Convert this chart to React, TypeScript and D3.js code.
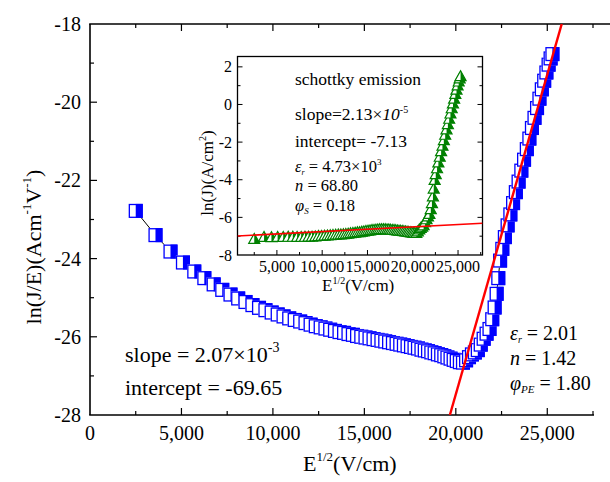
import React, { useEffect, useRef } from "react";
import * as d3 from "d3";

// E^1/2 (V/cm)
const fieldRoot = [
  2500, 3580, 4400, 5080, 5700, 6250, 6760, 7230, 7680, 8100, 8500, 8880, 9240, 9590, 9930,
  10260, 10580, 10890, 11190, 11490, 11780, 12060, 12340, 12610, 12870, 13130, 13390, 13640,
  13890, 14130, 14370, 14600, 14830, 15060, 15280, 15500, 15720, 15930, 16140, 16350, 16560,
  16760, 16960, 17160, 17360, 17550, 17740, 17930, 18120, 18300, 18480, 18660, 18840, 19020,
  19200, 19370, 19540, 19710, 19880, 20050, 20220, 20390,
  20560, 20720, 20880, 21040, 21200, 21360, 21520, 21680, 21840, 21990, 22120, 22230, 22320,
  22420, 22540, 22680, 22830, 22980, 23130, 23280, 23430, 23580, 23730, 23880, 24020, 24160,
  24300, 24440, 24570, 24700, 24830, 24950, 25070, 25180, 25280,
];

// ln(J/E)
const lnJE = [
  -22.78, -23.4, -23.82, -24.1, -24.33, -24.5, -24.66, -24.8, -24.92, -25.02, -25.11, -25.19,
  -25.26, -25.32, -25.38, -25.43, -25.48, -25.53, -25.57, -25.61, -25.65, -25.69, -25.73, -25.76,
  -25.79, -25.82, -25.85, -25.88, -25.9, -25.93, -25.95, -25.98, -26.0, -26.02, -26.04, -26.06,
  -26.08, -26.1, -26.12, -26.14, -26.16, -26.18, -26.2, -26.22, -26.24, -26.26, -26.28, -26.3,
  -26.33, -26.35, -26.37, -26.4, -26.42, -26.45, -26.47, -26.5, -26.53, -26.56, -26.59, -26.62,
  -26.65, -26.66,
  -26.6, -26.52, -26.45, -26.4, -26.34, -26.2, -26.05, -25.92, -25.8, -25.55, -25.25, -24.9,
  -24.5, -24.05, -23.75, -23.45, -23.15, -22.87, -22.58, -22.3, -22.03, -21.75, -21.47, -21.2,
  -20.93, -20.66, -20.4, -20.15, -19.91, -19.67, -19.45, -19.24, -19.04, -18.88, -18.77,
];

// ln(J) for the inset
const lnJ = [
  -7.13, -7.03, -7.04, -7.03, -7.03, -7.02, -7.02, -7.03, -7.03, -7.02, -7.01, -7.01, -7.0,
  -6.98, -6.97, -6.96, -6.95, -6.94, -6.92, -6.91, -6.9, -6.89, -6.88, -6.87, -6.85, -6.83,
  -6.82, -6.8, -6.78, -6.77, -6.75, -6.73, -6.71, -6.69, -6.68, -6.66, -6.65, -6.64, -6.63,
  -6.62, -6.62, -6.62, -6.62, -6.63, -6.63, -6.64, -6.65, -6.66, -6.67, -6.68, -6.69, -6.7,
  -6.71, -6.72, -6.73, -6.75, -6.76, -6.78, -6.79, -6.8, -6.81, -6.82,
  -6.73, -6.63, -6.55, -6.48, -6.41, -6.25, -6.09, -5.94, -5.81, -5.55, -5.23, -4.87, -4.46,
  -4.0, -3.69, -3.38, -3.07, -2.77, -2.47, -2.18, -1.89, -1.6, -1.31, -1.03, -0.75, -0.47,
  -0.19, 0.07, 0.32, 0.57, 0.8, 1.02, 1.23, 1.4, 1.52,
];

// fitted lines
const fitMain = [
  [19675, -28],
  [25790, -18],
];
const fitInset = [
  [650, -6.99],
  [27700, -6.31],
];

const mainXTicks = [0, 5000, 10000, 15000, 20000, 25000];
const mainYTicks = [-28, -26, -24, -22, -20, -18];
const insetXTicks = [5000, 10000, 15000, 20000, 25000];
const insetYTicks = [-8, -6, -4, -2, 0, 2];

const FONT = "'Liberation Serif', 'Times New Roman', serif";
const BLUE = "#0000ff";
const GREEN = "#008000";

const App = () => {
  const svgRef = useRef();

  useEffect(() => {
    const svg = d3.select(svgRef.current);
    svg.selectAll("*").remove();

    const pts = fieldRoot.map((x, i) => ({ x, y: lnJE[i], yi: lnJ[i] }));

    const x = d3.scaleLinear().domain([0, 27500]).range([90, 593]);
    const y = d3.scaleLinear().domain([-28, -18]).range([415, 24]);

    // clip for main plot
    const defs = svg.append("defs");
    defs
      .append("clipPath")
      .attr("id", "mainClip")
      .append("rect")
      .attr("x", 90)
      .attr("y", 24)
      .attr("width", 520)
      .attr("height", 391);

    // axes / frame
    const frame = svg.append("g").attr("stroke", "#000").attr("stroke-width", 1.6);
    frame.append("line").attr("x1", 90).attr("x2", 90).attr("y1", 24).attr("y2", 415);
    frame.append("line").attr("x1", 89.2).attr("x2", 594).attr("y1", 415).attr("y2", 415);
    frame.append("line").attr("x1", 89.2).attr("x2", 610).attr("y1", 24).attr("y2", 24);

    const minorX = d3.range(2500, 27501, 2500);
    const tk = svg.append("g").attr("stroke", "#000").attr("stroke-width", 1.2);
    minorX.forEach((v) => {
      const len = v % 5000 === 0 ? 7 : 4;
      tk.append("line").attr("x1", x(v)).attr("x2", x(v)).attr("y1", 415).attr("y2", 415 - len);
      tk.append("line").attr("x1", x(v)).attr("x2", x(v)).attr("y1", 24).attr("y2", 24 + len);
    });
    d3.range(-27, -18, 1).forEach((v) => {
      const len = v % 2 === 0 ? 7 : 4;
      tk.append("line").attr("x1", 90).attr("x2", 90 + len).attr("y1", y(v)).attr("y2", y(v));
    });

    const lbl = svg.append("g").attr("font-family", FONT).attr("fill", "#000");
    mainXTicks.forEach((v) => {
      lbl
        .append("text")
        .attr("x", x(v))
        .attr("y", 440)
        .attr("text-anchor", "middle")
        .attr("font-size", 20)
        .text(d3.format(",")(v));
    });
    mainYTicks.forEach((v) => {
      lbl
        .append("text")
        .attr("x", 81)
        .attr("y", y(v))
        .attr("dy", "0.35em")
        .attr("text-anchor", "end")
        .attr("font-size", 20)
        .text(v);
    });

    // x title
    const xt = lbl.append("text").attr("x", 303).attr("y", 471).attr("font-size", 22);
    xt.append("tspan").text("E");
    xt.append("tspan").attr("font-size", 13).attr("dy", -10).text("1/2");
    xt.append("tspan").attr("dy", 10).text("(V/cm)");

    // y title
    const yt = lbl
      .append("text")
      .attr("transform", "translate(41,247) rotate(-90)")
      .attr("text-anchor", "middle")
      .attr("font-size", 22);
    yt.append("tspan").text("ln(J/E)(Acm");
    yt.append("tspan").attr("font-size", 13).attr("dy", -10).text("-1");
    yt.append("tspan").attr("dy", 10).text("V");
    yt.append("tspan").attr("font-size", 13).attr("dy", -10).text("-1");
    yt.append("tspan").attr("dy", 10).text(")");

    // main data
    const plot = svg.append("g").attr("clip-path", "url(#mainClip)");
    plot
      .append("path")
      .datum(pts)
      .attr("fill", "none")
      .attr("stroke", "#000")
      .attr("stroke-width", 1)
      .attr("d", d3.line().x((d) => x(d.x)).y((d) => y(d.y)));

    const s = 7;
    const sq = plot
      .selectAll("g.sq")
      .data(pts)
      .join("g")
      .attr("class", "sq")
      .attr("transform", (d) => `translate(${x(d.x)},${y(d.y)})`);
    sq.append("rect").attr("x", -s).attr("y", -s).attr("width", 2 * s).attr("height", 2 * s).attr("fill", "#fff");
    sq.append("rect").attr("x", 0).attr("y", -s).attr("width", s).attr("height", 2 * s).attr("fill", BLUE);
    sq.append("rect")
      .attr("x", -s + 0.6)
      .attr("y", -s + 0.6)
      .attr("width", 2 * s - 1.2)
      .attr("height", 2 * s - 1.2)
      .attr("fill", "none")
      .attr("stroke", BLUE)
      .attr("stroke-width", 1.3);

    plot
      .append("path")
      .datum(fitMain)
      .attr("fill", "none")
      .attr("stroke", "#ff0000")
      .attr("stroke-width", 2.4)
      .attr("d", d3.line().x((d) => x(d[0])).y((d) => y(d[1])));

    // main annotations
    const ann = svg.append("g").attr("font-family", FONT).attr("font-size", 22).attr("fill", "#000");
    const sl = ann.append("text").attr("x", 125).attr("y", 362);
    sl.append("tspan").text("slope = 2.07×10");
    sl.append("tspan").attr("font-size", 14).attr("dy", -10).text("-3");
    ann.append("text").attr("x", 125).attr("y", 395).text("intercept = -69.65");

    const e1 = ann.append("text").attr("x", 510).attr("y", 340).attr("font-size", 20);
    e1.append("tspan").attr("font-style", "italic").text("ε");
    e1.append("tspan").attr("font-style", "italic").attr("font-size", 10).attr("dy", 3).text("r");
    e1.append("tspan").attr("dy", -3).text("  = 2.01");
    const n1 = ann.append("text").attr("x", 510).attr("y", 365).attr("font-size", 20);
    n1.append("tspan").attr("font-style", "italic").text("n");
    n1.append("tspan").text(" = 1.42");
    const p1 = ann.append("text").attr("x", 510).attr("y", 390).attr("font-size", 20);
    p1.append("tspan").attr("font-style", "italic").text("φ");
    p1.append("tspan").attr("font-style", "italic").attr("font-size", 11).attr("dy", 3).text("PE");
    p1.append("tspan").attr("dy", -3).text(" = 1.80");

    // ---------- inset ----------
    const xi = d3.scaleLinear().domain([650, 27700]).range([237.5, 482.5]);
    const yi = d3.scaleLinear().domain([-8, 2.55]).range([255, 56.5]);

    defs
      .append("clipPath")
      .attr("id", "insetClip")
      .append("rect")
      .attr("x", 237.5)
      .attr("y", 56.5)
      .attr("width", 245)
      .attr("height", 198.5);

    svg
      .append("rect")
      .attr("x", 237.5)
      .attr("y", 56.5)
      .attr("width", 245)
      .attr("height", 198.5)
      .attr("fill", "#fff")
      .attr("stroke", "#000")
      .attr("stroke-width", 1.3);

    const itk = svg.append("g").attr("stroke", "#000").attr("stroke-width", 1);
    d3.range(2500, 27501, 2500).forEach((v) => {
      const len = v % 5000 === 0 ? 5 : 3;
      itk.append("line").attr("x1", xi(v)).attr("x2", xi(v)).attr("y1", 255).attr("y2", 255 - len);
    });
    d3.range(-7, 3, 1).forEach((v) => {
      const len = v % 2 === 0 ? 5 : 3;
      itk.append("line").attr("x1", 237.5).attr("x2", 237.5 + len).attr("y1", yi(v)).attr("y2", yi(v));
      itk.append("line").attr("x1", 482.5).attr("x2", 482.5 - len).attr("y1", yi(v)).attr("y2", yi(v));
    });

    const il = svg.append("g").attr("font-family", FONT).attr("fill", "#000").attr("font-size", 16);
    insetXTicks.forEach((v) => {
      il.append("text")
        .attr("x", xi(v))
        .attr("y", 272)
        .attr("text-anchor", "middle")
        .text(d3.format(",")(v));
    });
    insetYTicks.forEach((v) => {
      il.append("text")
        .attr("x", 232)
        .attr("y", yi(v))
        .attr("dy", "0.35em")
        .attr("text-anchor", "end")
        .text(v);
    });
    const ixt = il.append("text").attr("x", 322).attr("y", 291).attr("font-size", 17);
    ixt.append("tspan").text("E");
    ixt.append("tspan").attr("font-size", 10).attr("dy", -7).text("1/2");
    ixt.append("tspan").attr("dy", 7).text("(V/cm)");
    const iyt = il
      .append("text")
      .attr("transform", "translate(213,173) rotate(-90)")
      .attr("text-anchor", "middle")
      .attr("font-size", 17);
    iyt.append("tspan").text("ln(J)(A/cm");
    iyt.append("tspan").attr("font-size", 10).attr("dy", -7).text("2");
    iyt.append("tspan").attr("dy", 7).text(")");

    const iplot = svg.append("g").attr("clip-path", "url(#insetClip)");
    const t = 5.5;
    const tri = `M${-t},${t * 0.85}L0,${-t * 0.95}L${t},${t * 0.85}Z`;
    const rightHalf = `M0,${t * 0.85}L0,${-t * 0.95}L${t},${t * 0.85}Z`;
    const tg = iplot
      .selectAll("g.tri")
      .data(pts)
      .join("g")
      .attr("class", "tri")
      .attr("transform", (d) => `translate(${xi(d.x)},${yi(d.yi)})`);
    tg.append("path").attr("d", tri).attr("fill", "#fff");
    tg.append("path").attr("d", rightHalf).attr("fill", GREEN);
    tg.append("path").attr("d", tri).attr("fill", "none").attr("stroke", GREEN).attr("stroke-width", 1.2);

    iplot
      .append("path")
      .datum(fitInset)
      .attr("fill", "none")
      .attr("stroke", "#ff0000")
      .attr("stroke-width", 1.6)
      .attr("d", d3.line().x((d) => xi(d[0])).y((d) => yi(d[1])));

    const it = svg.append("g").attr("font-family", FONT).attr("font-size", 17.5).attr("fill", "#000");
    it.append("text").attr("x", 295).attr("y", 85).text("schottky emission");
    const is1 = it.append("text").attr("x", 295).attr("y", 120);
    is1.append("tspan").text("slope=2.13×");
    is1.append("tspan").attr("font-style", "italic").text("10");
    is1.append("tspan").attr("font-size", 10).attr("dy", -7).text("-5");
    it.append("text").attr("x", 295).attr("y", 146.5).text("intercept= -7.13");
    const ie = it.append("text").attr("x", 295).attr("y", 171.5).attr("font-size", 16.5);
    ie.append("tspan").attr("font-style", "italic").text("ε");
    ie.append("tspan").attr("font-style", "italic").attr("font-size", 8).attr("dy", 3).text("r");
    ie.append("tspan").attr("dy", -3).text(" = 4.73×10");
    ie.append("tspan").attr("font-size", 9).attr("dy", -7).text("3");
    const inn = it.append("text").attr("x", 295).attr("y", 191).attr("font-size", 16.5);
    inn.append("tspan").attr("font-style", "italic").text("n");
    inn.append("tspan").text(" = 68.80");
    const ip = it.append("text").attr("x", 295).attr("y", 210.5).attr("font-size", 16.5);
    ip.append("tspan").attr("font-style", "italic").text("φ");
    ip.append("tspan").attr("font-style", "italic").attr("font-size", 9).attr("dy", 3).text("S");
    ip.append("tspan").attr("dy", -3).text(" = 0.18");
  }, []);

  return (
    <svg
      ref={svgRef}
      width={610}
      height={482}
      style={{ position: "absolute", left: 0, top: 0, background: "#fff" }}
    ></svg>
  );
};

export default App;
